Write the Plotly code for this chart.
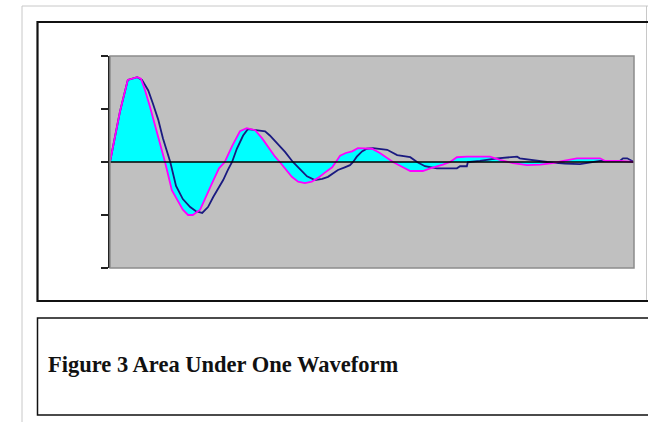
import plotly.graph_objects as go

# ---- data (time in arbitrary units 0..100) ----
t_area = [0, 1.9, 3.4, 5.2, 5.9, 6.7, 7.6, 8.6, 9.5, 10.5, 11.8, 13.0, 13.9, 14.9, 15.8,
          17.2, 18.5, 19.7, 20.8, 21.9, 23.3, 24.8, 26.1, 27.7, 29.0, 30.2, 31.5, 32.4,
          34.7, 35.9, 37.2, 38.5, 39.7, 41.0, 42.4, 43.3, 43.9, 45.0, 46.2, 47.3, 50.0,
          51.5, 52.9, 54.0, 55.9, 57.3, 59.7, 61.1, 63.5, 64.9, 66.2, 68.1, 72.5, 74.4,
          76.9, 79.6, 82.1, 84.5, 86.5, 89.1, 93.5, 94.5, 97.3, 100]
v_area = [0, 0.95, 1.55, 1.6, 1.57, 1.35, 1.05, 0.7, 0.35, 0, -0.53, -0.75, -0.9, -1.0, -1.0,
          -0.9, -0.6, -0.35, -0.12, 0, 0.3, 0.58, 0.64, 0.6, 0.45, 0.28, 0.1, 0,
          -0.28, -0.37, -0.4, -0.37, -0.3, -0.2, -0.1, 0.03, 0.12, 0.17, 0.2, 0.26, 0.25,
          0.17, 0.07, 0, -0.1, -0.17, -0.17, -0.12, -0.05, 0, 0.09, 0.1, 0.1, 0.04,
          -0.02, -0.06, -0.05, -0.02, 0.02, 0.07, 0.07, 0.02, 0.02, 0]

t_other = [0, 1.9, 3.4, 5.2, 6.1, 7.3, 8.2, 9.2, 10.1, 10.9, 11.5, 12.6, 13.9, 15.3, 16.4,
           17.6, 18.7, 19.7, 20.6, 21.6, 22.5, 23.3, 24.2, 25.4, 26.3, 27.7, 29.6, 30.5,
           31.5, 32.4, 33.4, 34.9, 36.3, 37.6, 39.1, 40.5, 41.6, 43.5, 44.8, 45.8, 46.4,
           47.1, 48.1, 49.0, 50.2, 52.9, 54.8, 57.3, 58.6, 60.1, 62.4, 66.2, 66.8, 68.1,
           68.3, 70.6, 73.9, 77.7, 78.2, 81.5, 83.4, 86.8, 89.7, 93.5, 97.3, 97.9, 98.7, 100]
v_other = [0, 0.95, 1.55, 1.6, 1.55, 1.35, 1.1, 0.8, 0.45, 0.2, 0, -0.45, -0.7, -0.85, -0.93,
           -0.96, -0.85, -0.66, -0.5, -0.34, -0.15, 0, 0.25, 0.5, 0.62, 0.6, 0.58, 0.5,
           0.4, 0.3, 0.19, 0, -0.15, -0.27, -0.34, -0.32, -0.28, -0.15, -0.1, -0.06, 0,
           0.1, 0.2, 0.25, 0.26, 0.23, 0.13, 0.09, 0, -0.08, -0.12, -0.12, -0.08, -0.08,
           0, 0.02, 0.07, 0.1, 0.07, 0.02, 0, -0.03, -0.04, 0.02, 0.02, 0.07, 0.07, 0]

y_ticks = [-2, -1, 0, 1, 2]
caption = "Figure 3 Area Under One Waveform"

W, H = 648, 422

def px(x):
    return x / W

def py(y):
    return 1 - y / H

fig = go.Figure()
fig.add_trace(go.Scatter(x=t_area, y=v_area, mode="none", fill="tozeroy",
                         fillcolor="#00FFFF", showlegend=False, hoverinfo="skip"))
fig.add_trace(go.Scatter(x=t_other, y=v_other, mode="lines",
                         line=dict(color="#1A1A80", width=1.8), showlegend=False))
fig.add_trace(go.Scatter(x=t_area, y=v_area, mode="lines",
                         line=dict(color="#FF00FF", width=1.8), showlegend=False))

shapes = [
    # zero line above fill
    dict(type="line", xref="x domain", yref="y", x0=0, x1=1, y0=0, y1=0,
         line=dict(color="black", width=1.5), layer="above"),
    # plot area border (grey)
    dict(type="rect", xref="x domain", yref="y domain", x0=0, x1=1, y0=0, y1=1,
         line=dict(color="#8C8C8C", width=1.5), layer="above"),
    # page outline (light grey)
    dict(type="line", xref="paper", yref="paper", x0=px(22), x1=px(22), y0=py(6), y1=0,
         line=dict(color="#C8C8C8", width=1)),
    dict(type="line", xref="paper", yref="paper", x0=px(22), x1=1, y0=py(6), y1=py(6),
         line=dict(color="#C8C8C8", width=1)),
    dict(type="line", xref="paper", yref="paper", x0=px(646.5), x1=px(646.5), y0=py(6), y1=py(302),
         line=dict(color="#C8C8C8", width=1)),
    # chart frame
    dict(type="rect", xref="paper", yref="paper", x0=px(37.5), x1=px(660), y0=py(301), y1=py(22),
         line=dict(color="#111111", width=2.2)),
    # caption frame
    dict(type="rect", xref="paper", yref="paper", x0=px(37.5), x1=px(660), y0=py(415), y1=py(318),
         line=dict(color="#111111", width=1.5)),
]

fig.update_layout(
    width=W, height=H,
    margin=dict(l=0, r=0, t=0, b=0),
    paper_bgcolor="white",
    plot_bgcolor="#C0C0C0",
    shapes=shapes,
    xaxis=dict(domain=[px(110), px(634)], range=[0, 100], showgrid=False, zeroline=False,
               showticklabels=False, ticks="", showline=False),
    yaxis=dict(domain=[py(268), py(56)], range=[-2, 2], tickvals=y_ticks, showgrid=False,
               zeroline=False, showticklabels=False, ticks="outside", ticklen=7,
               tickwidth=1.5, tickcolor="#222222", showline=True, linecolor="#222222",
               linewidth=1.8),
    annotations=[dict(text="<b>" + caption + "</b>", xref="paper", yref="paper",
                      x=px(46), y=py(364), xanchor="left", yanchor="middle",
                      showarrow=False,
                      font=dict(family="Liberation Serif, Times New Roman, serif",
                                size=22.5, color="#111111"))],
)

fig.write_html("out.html")
